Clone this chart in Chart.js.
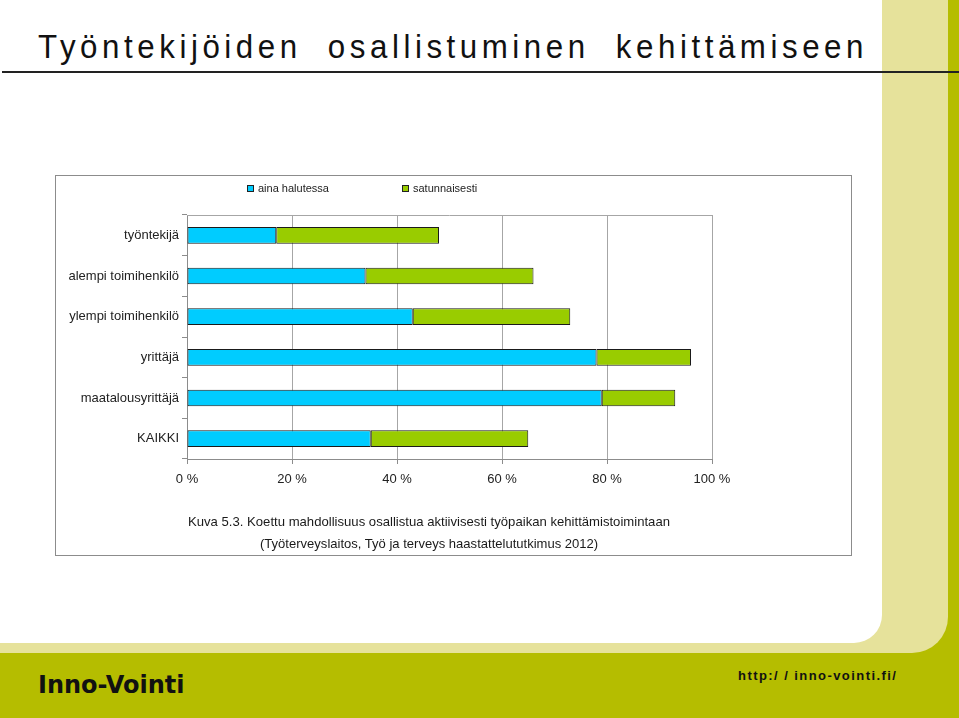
<!DOCTYPE html>
<html><head><meta charset="utf-8">
<script src="https://cdn.jsdelivr.net/npm/chart.js@4"></script>
<style>
html,body{margin:0;padding:0;}
body{width:959px;height:718px;position:relative;overflow:hidden;background:#b5bd00;font-family:"Liberation Sans",Arial,sans-serif;}
#pale{position:absolute;left:0;top:0;width:948px;height:653px;background:#e6e29b;border-bottom-right-radius:36px;}
#white{position:absolute;left:0;top:0;width:882px;height:643px;background:#fff;border-bottom-right-radius:28px;}
#title{position:absolute;left:38px;top:29px;font-size:34px;line-height:34px;color:#111;white-space:nowrap;word-spacing:14px;transform-origin:0 0;}
#rule{position:absolute;left:2px;top:71px;width:957px;height:2px;background:#222;}
#box{position:absolute;left:55px;top:175px;width:795px;height:379px;border:1px solid #8c8c8c;background:#fff;}
#box canvas{position:absolute;left:0;top:0;}
.cap{position:absolute;white-space:nowrap;font-size:13.5px;line-height:13.5px;color:#1a1a1a;transform-origin:0 0;}
#brand{position:absolute;left:38px;top:673px;font:bold 24px/24px "DejaVu Sans",sans-serif;color:#111;white-space:nowrap;}
#url{position:absolute;left:738px;top:669px;font:bold 13px/13px "Liberation Sans",Arial,sans-serif;color:#111;white-space:nowrap;}
</style></head>
<body>
<div id="pale"></div>
<div id="white"></div>
<div id="title">Työntekijöiden osallistuminen kehittämiseen</div>
<div id="rule"></div>
<div id="box"><canvas id="c" width="795" height="379"></canvas></div>
<div class="cap" id="cap1">Kuva 5.3. Koettu mahdollisuus osallistua aktiivisesti työpaikan kehittämistoimintaan</div>
<div class="cap" id="cap2">(Työterveyslaitos, Työ ja terveys haastattelututkimus 2012)</div>
<div id="brand">Inno-Vointi</div>
<div id="url">http:/ / inno-vointi.fi/</div>
<script>
const categories = ["työntekijä","alempi toimihenkilö","ylempi toimihenkilö","yrittäjä","maatalousyrittäjä","KAIKKI"];
const seriesNames = ["aina halutessa","satunnaisesti"];
const ainaHalutessa = [17,34,43,78,79,35];
const satunnaisesti = [31,32,30,18,14,30];
const xTickValues = [0,20,40,60,80,100];

function fitSpacing(el, target, scale){
  const s = scale || 1;
  const txt = el.textContent; const w = el.offsetWidth;
  el.style.letterSpacing = ((target / s - w)/(txt.length-1)) + 'px';
  if (s !== 1) el.style.transform = 'scaleX(' + s + ')';
}
function fitCentered(el, target, cx, top){
  const w = el.offsetWidth; const s = target / w;
  el.style.transform = 'scaleX(' + s + ')';
  el.style.left = (cx - target/2) + 'px';
  el.style.top = top + 'px';
}
fitSpacing(document.getElementById('title'), 825, 0.92);
fitSpacing(document.getElementById('url'), 158);
fitCentered(document.getElementById('cap1'), 482, 429, 515);
fitCentered(document.getElementById('cap2'), 338, 429, 537);

const frame = {
  id:'frame',
  beforeDatasetsDraw(c){
    const {ctx, chartArea:a} = c;
    ctx.save(); ctx.strokeStyle = '#a6a6a6'; ctx.lineWidth = 1;
    ctx.beginPath(); ctx.moveTo(a.left, a.top + 0.5); ctx.lineTo(a.right, a.top + 0.5); ctx.stroke();
    ctx.restore();
  }
};
const boxLegend = {
  id:'boxLegend',
  afterDraw(c){
    const ctx = c.ctx; const xs = [191, 346]; const yc = 12.5;
    ctx.save();
    ctx.font = '11px "Liberation Sans", Arial, sans-serif';
    ctx.textBaseline = 'middle';
    c.data.datasets.forEach((d, i) => {
      ctx.fillStyle = d.backgroundColor;
      ctx.fillRect(xs[i], yc - 3.5, 7, 7);
      ctx.strokeStyle = '#222'; ctx.lineWidth = 1;
      ctx.strokeRect(xs[i] + 0.5, yc - 3.5 + 0.5, 6, 6);
      ctx.fillStyle = '#222';
      ctx.fillText(d.label, xs[i] + 11, yc);
    });
    ctx.restore();
  }
};

new Chart(document.getElementById('c'), {
  type:'bar',
  data:{
    labels: categories,
    datasets:[
      {label: seriesNames[0], data: ainaHalutessa, backgroundColor:'#00ccff', borderColor:'#1a1a1a', borderWidth:1, borderSkipped:false, barPercentage:0.41, categoryPercentage:1},
      {label: seriesNames[1], data: satunnaisesti, backgroundColor:'#99cc00', borderColor:'#1a1a1a', borderWidth:1, borderSkipped:false, barPercentage:0.41, categoryPercentage:1}
    ]
  },
  options:{
    indexAxis:'y', responsive:false, animation:false,
    layout:{padding:{top:39, right:139, left:0, bottom:0}},
    plugins:{legend:{display:false}, tooltip:{enabled:false}},
    scales:{
      x:{
        stacked:true, min:0, max:100,
        afterBuildTicks(s){ s.ticks = xTickValues.map(v => ({value:v})); },
        ticks:{callback:v => v + ' %', color:'#222', font:{size:13, family:'"Liberation Sans", Arial'}, padding:8, maxRotation:0},
        grid:{color:'#a6a6a6', lineWidth:1, tickLength:5, tickColor:'#8c8c8c'},
        border:{color:'#8c8c8c'},
        afterFit(s){ s.height = 96; }
      },
      y:{
        stacked:true,
        grid:{offset:true, drawOnChartArea:false, tickLength:5, color:'#8c8c8c'},
        border:{color:'#8c8c8c'},
        ticks:{color:'#222', font:{size:13, family:'"Liberation Sans", Arial'}, padding:3},
        afterFit(s){ s.width = 131; }
      }
    }
  },
  plugins:[frame, boxLegend]
});
</script>
</body></html>
